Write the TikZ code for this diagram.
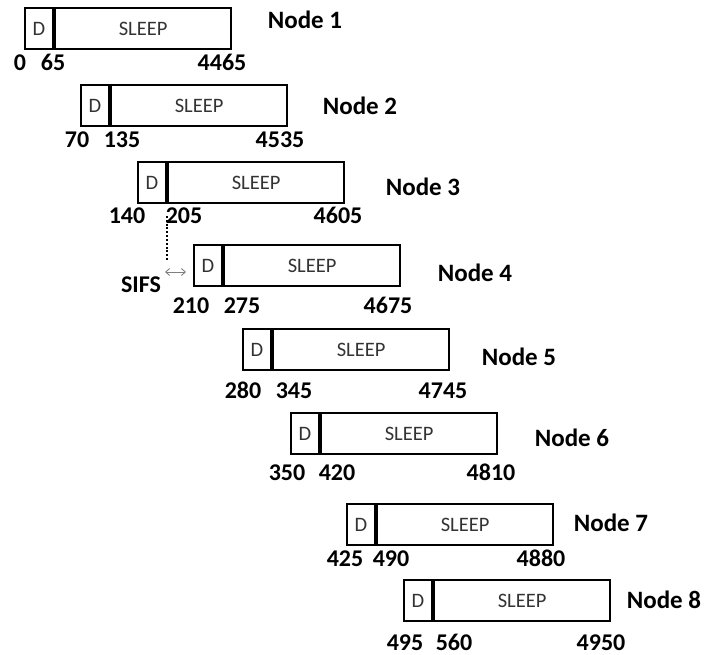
\documentclass[tikz,border=0pt]{standalone}
\usepackage{fontspec}
\setmainfont{Carlito}
\usetikzlibrary{arrows.meta,positioning}

\begin{document}
\begin{tikzpicture}[
  x=1pt, y=-1pt,
  dcell/.style={draw, line width=2.1pt, minimum width=28pt, minimum height=41pt, inner sep=0pt,
                font=\fontsize{20.5}{24}\selectfont, text=black!80},
  sleepcell/.style={dcell, minimum width=176pt},
  tick/.style={font=\fontsize{24}{28}\selectfont\bfseries, inner sep=0pt, anchor=base},
  nodename/.style={font=\fontsize{25}{30}\selectfont\bfseries, inner sep=0pt},
  sifsline/.style={line width=2.2pt, dash pattern=on 2pt off 1.8pt},
  gaparrow/.style={{Straight Barb[length=4pt,width=7pt]}-{Straight Barb[length=4pt,width=7pt]}, draw=gray, line width=0.9pt},
]
\useasboundingbox (0,0) rectangle (704,655);

\foreach \i/\l/\t/\ly/\a/\ax/\b/\bx/\c/\cx/\nx/\ny in {
  1/24/7/71/0/20/65/53/4465/222/305/20,
  2/80/84/148/70/77/135/122/4535/280/360/106,
  3/137/161/223/140/127/205/184/4605/338/423/187,
  4/193/244/313/210/191/275/242/4675/388/475/273,
  5/242/328/398/280/243/345/294/4745/443/519/357,
  6/290/412/480/350/287/420/337/4810/491/572/438,
  7/346/503/566/425/345/490/391/4880/541/611/523,
  8/403/579/650/495/405/560/454/4950/601/664/600} {
  \node[dcell, anchor=north west] (d\i) at (\l,\t) {D};
  \node[sleepcell, right=0pt of d\i] (s\i) {SLEEP};
  \node[tick] (a\i) at (\ax,\ly) {\a};
  \node[tick] (b\i) at (\bx,\ly) {\b};
  \node[tick] (c\i) at (\cx,\ly) {\c};
  \node[nodename] (n\i) at (\nx,\ny) {Node \i};
}

% SIFS gap between node 3 and node 4
\coordinate (sifstop) at ([yshift=-12pt]d3.south east);
\coordinate (sifsbot) at ([yshift=-56pt]d3.south east);
\draw[sifsline] (sifstop) -- (sifsbot);
\coordinate (gapl) at (165,272);
\coordinate (gapr) at (186,272);
\draw[gaparrow] (gapl) -- (gapr);
\node[tick] (sifs) at (141,292) {SIFS};

\end{tikzpicture}
\end{document}
